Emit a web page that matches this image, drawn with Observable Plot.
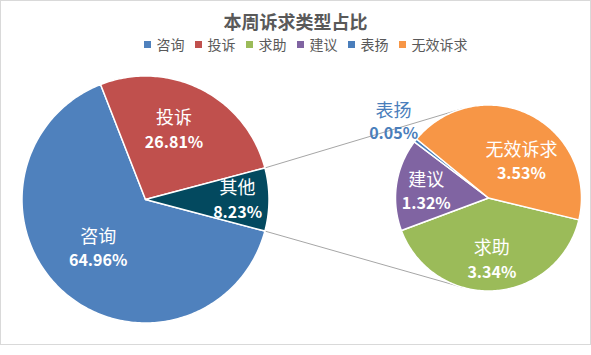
<!DOCTYPE html>
<html><head><meta charset="utf-8">
<script src="https://cdn.jsdelivr.net/npm/d3@7"></script>
<script src="https://cdn.jsdelivr.net/npm/@observablehq/plot@0.6"></script>
<style>
body{margin:0;background:#fff;font-family:"Noto Sans CJK SC","Noto Sans",sans-serif;}
#wrap{position:relative;width:591px;height:355px;overflow:hidden;}
#frame{position:absolute;left:0;top:0;width:591px;height:345px;border:1px solid #d9d9d9;box-sizing:border-box;pointer-events:none;}
#title{height:24px;padding-top:9px;line-height:24px;font-size:18px;font-weight:bold;color:#595959;text-align:center;}
#legend{height:23px;line-height:23px;display:flex;justify-content:center;padding-left:30px;font-size:14px;color:#595959;}
.item{display:flex;align-items:center;margin-right:10px;}
.sw{width:7px;height:7px;margin-right:6px;}
svg{display:block;}
</style></head>
<body>
<div id="wrap">
<div id="title"></div>
<div id="legend"></div>
<div id="chart"></div>
<div id="frame"></div>
</div>
<script>
// ---- data ----
const titleText = "本周诉求类型占比";
const mainCats = ["咨询", "投诉", "其他"];
const mainVals = [64.96, 26.81, 8.23];
const subCats = ["求助", "建议", "表扬", "无效诉求"];
const subVals = [3.34, 1.32, 0.05, 3.53];
const legendCats = ["咨询", "投诉", "求助", "建议", "表扬", "无效诉求"];
const colorDomain = ["咨询", "投诉", "其他", "求助", "建议", "表扬", "无效诉求"];
const colorRange = ["#4F81BD", "#C0504D", "#03495F", "#9BBB59", "#8064A2", "#4A7EBB", "#F79646"];

// ---- layout ----
const W = 591, TOP = 56, H = 355 - TOP;
const mainPie = {cx: 145, cy: 199, r: 123.5};
const subPie = {cx: 488, cy: 197.5, r: 93, start: 103.6 * Math.PI / 180};
const labelFrac = 0.6;
const labelNudge = {
  "咨询": [2, -6], "投诉": [-5, -3], "其他": [18, 1],
  "求助": [0, 7], "建议": [-7, 2], "无效诉求": [8, 14]
};
const outsideFrac = {"表扬": 1.3};

document.getElementById("title").textContent = titleText;
const leg = document.getElementById("legend");
const cmap = new Map(colorDomain.map((d, i) => [d, colorRange[i]]));
legendCats.forEach(c => {
  const it = document.createElement("div"); it.className = "item";
  const sw = document.createElement("div"); sw.className = "sw"; sw.style.background = cmap.get(c);
  const tx = document.createElement("span"); tx.textContent = c;
  it.appendChild(sw); it.appendChild(tx); leg.appendChild(it);
});

const pt = (p, a, r) => ({x: p.cx + r * Math.sin(a), y: p.cy - r * Math.cos(a)});

// main pie start so that "其他" is centred at the right (pi/2)
const mainTotal = d3.sum(mainVals);
const otherIdx = mainCats.indexOf("其他");
const beforeOther = d3.sum(mainVals.slice(0, otherIdx)) + mainVals[otherIdx] / 2;
const mainStart = Math.PI / 2 - 2 * Math.PI * beforeOther / mainTotal;

const pie = (start) => d3.pie().sort(null).value(d => d.v).startAngle(start).endAngle(start + 2 * Math.PI);
const mainArcs = pie(mainStart)(mainCats.map((k, i) => ({k, v: mainVals[i]})));
const subArcs = pie(subPie.start)(subCats.map((k, i) => ({k, v: subVals[i]})));

const poly = [];
function addArcs(arcs, p) {
  arcs.forEach(a => {
    const key = a.data.k;
    poly.push({key, ...pt(p, 0, 0)});
    const n = Math.max(2, Math.ceil((a.endAngle - a.startAngle) * 180 / Math.PI));
    for (let i = 0; i <= n; i++) {
      const ang = a.startAngle + (a.endAngle - a.startAngle) * i / n;
      poly.push({key, ...pt(p, ang, p.r)});
    }
  });
}
addArcs(mainArcs, mainPie);
addArcs(subArcs, subPie);

// connector lines: from the "其他" outer corners, tangent to the second pie
const oa = mainArcs[otherIdx];
function tangent(P, C, upper) {
  const dx = P.x - C.cx, dy = P.y - C.cy, d = Math.hypot(dx, dy);
  const th = Math.acos(C.r / d), ux = dx / d, uy = dy / d;
  const cands = [th, -th].map(t => ({
    x: C.cx + C.r * (ux * Math.cos(t) - uy * Math.sin(t)),
    y: C.cy + C.r * (ux * Math.sin(t) + uy * Math.cos(t))
  }));
  cands.sort((a, b) => a.y - b.y);
  return upper ? cands[0] : cands[1];
}
const pTop = pt(mainPie, oa.startAngle, mainPie.r);
const pBot = pt(mainPie, oa.endAngle, mainPie.r);
const connectors = [
  {id: "a", ...pTop}, {id: "a", ...tangent(pTop, subPie, true)},
  {id: "b", ...pBot}, {id: "b", ...tangent(pBot, subPie, false)}
];

// labels
const labels = [];
function addLabels(arcs, p) {
  arcs.forEach(a => {
    const k = a.data.k, mid = (a.startAngle + a.endAngle) / 2;
    const outside = outsideFrac[k] !== undefined;
    const c = pt(p, mid, p.r * (outside ? outsideFrac[k] : labelFrac));
    const nd = labelNudge[k] || [0, 0];
    labels.push({k, x: c.x + nd[0], y: c.y + nd[1], pct: d3.format(".2f")(a.data.v) + "%", outside});
  });
}
addLabels(mainArcs, mainPie);
addLabels(subArcs, subPie);
const inL = labels.filter(d => !d.outside), outL = labels.filter(d => d.outside);

const chart = Plot.plot({
  width: W, height: H, margin: 0,
  x: {domain: [0, W], range: [0, W], axis: null},
  y: {domain: [TOP, TOP + H], range: [0, H], axis: null},
  color: {domain: colorDomain, range: colorRange},
  style: {fontFamily: '"Noto Sans CJK SC","Noto Sans",sans-serif', background: "transparent"},
  marks: [
    Plot.line(connectors, {x: "x", y: "y", z: "id", stroke: "#a6a6a6", strokeWidth: 1}),
    Plot.line(poly, {x: "x", y: "y", z: "key", fill: "key", stroke: "white", strokeWidth: 1.5, curve: "linear-closed", strokeLinejoin: "round"}),
    Plot.text(inL, {x: "x", y: "y", text: "k", dy: -12, fill: "white", fontSize: 18}),
    Plot.text(inL, {x: "x", y: "y", text: "pct", dy: 12, fill: "white", fontSize: 16, fontWeight: "bold"}),
    Plot.text(outL, {x: "x", y: "y", text: "k", dy: -12, fill: "#4A7EBB", fontSize: 18}),
    Plot.text(outL, {x: "x", y: "y", text: "pct", dy: 11, fill: "#4A7EBB", fontSize: 16, fontWeight: "bold"})
  ]
});
document.getElementById("chart").appendChild(chart);
</script>
</body></html>
